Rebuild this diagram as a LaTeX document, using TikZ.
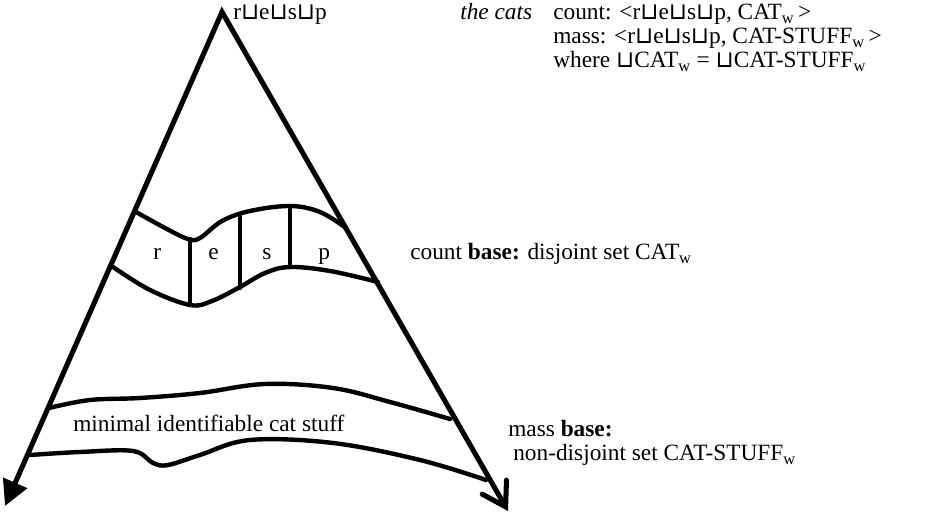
\documentclass[tikz,border=0pt]{standalone}
\usepackage{fontspec}
\setmainfont{Liberation Serif}
\newfontfamily\cupfont{DejaVu Sans}
\usetikzlibrary{arrows.meta}
\newcommand{\jn}{{\cupfont ⊔}}
\newcommand{\resp}{r\jn e\jn s\jn p}
\tikzset{
  txt/.style={anchor=base west,inner sep=0pt,font=\fontsize{17.5}{19}\selectfont},
  band/.style={line width=3.3pt,line cap=round,line join=round},
}

\begin{document}
\begin{tikzpicture}[x=0.75pt,y=-0.75pt]
\useasboundingbox (0,0) rectangle (933,516);
% the two sides
\coordinate (apex) at (222,12);
\coordinate (tipl) at (5,506);
\coordinate (tipr) at (508,511);
\draw[line width=3.8pt,line join=miter,
  {Triangle[length=19pt,width=19pt]}-{Straight Barb[length=17pt,width=21pt,line cap=round]}]
  (tipl) -- (apex) -- (tipr);
% count band
\draw[band] plot[smooth,tension=0.6] coordinates {(136,212) (165,228) (188,239) (200,238) (222,221) (250,211) (290,206) (320,212) (346,228)};
\draw[band] plot[smooth,tension=0.6] coordinates {(113,267) (150,290) (190,305) (212,301) (240,287) (265,273) (290,267) (330,271) (378,282)};
\draw[band] (190,239) -- (190,305);
\draw[band] (240,215) -- (240,288);
\draw[band] (290,206) -- (290,267);
\node[txt] (r) at (153,260) {r};
\node[txt] (e) at (208,260) {e};
\node[txt] (s) at (262,260) {s};
\node[txt] (p) at (318,260) {p};
% mass band
\draw[band] plot[smooth,tension=0.6] coordinates {(49,408) (90,400) (140,398) (200,393) (265,384) (333,388) (390,402) (450,419)};
\draw[band] plot[smooth,tension=0.6] coordinates {(30,455) (80,452) (133,451) (153,463) (168,465) (200,455) (250,440) (333,443) (420,460) (486,480)};
\node[txt] (stuff) at (73,432) {minimal identifiable cat stuff};
% labels
\node[txt] (top) at (233,20) {\resp};
\node[txt] (cats) at (460,20) {\itshape the cats};
\node[txt] (cnt) at (553,20) {count: <\resp, CAT\textsubscript{w}\,>};
\node[txt] (mss) at (553,44) {mass: <\resp, CAT-STUFF\textsubscript{w}\,>};
\node[txt] (whr) at (553,68) {where \jn CAT\textsubscript{w} = \jn CAT-STUFF\textsubscript{w}};
\node[txt] (cbase) at (410,260) {count \textbf{base:} disjoint set CAT\textsubscript{w}};
\node[txt] (mbase) at (508,437) {mass \textbf{base:}};
\node[txt] (mset) at (513,461) {non-disjoint set CAT-STUFF\textsubscript{w}};
\end{tikzpicture}
\end{document}
